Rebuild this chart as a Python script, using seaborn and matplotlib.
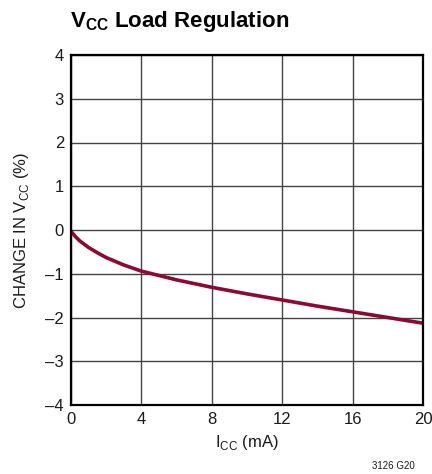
import matplotlib
matplotlib.use("Agg")
import matplotlib.pyplot as plt
import pandas as pd
import seaborn as sns

# data
icc_ma = [0, 0.25, 0.5, 1, 1.5, 2, 3, 4, 6, 8, 10, 12, 14, 16, 18, 20]
vcc_change = [-0.03, -0.15, -0.25, -0.40, -0.52, -0.63, -0.80, -0.94, -1.14,
              -1.31, -1.46, -1.60, -1.74, -1.87, -2.00, -2.13]
x_ticks = [0, 4, 8, 12, 16, 20]
y_ticks = [-4, -3, -2, -1, 0, 1, 2, 3, 4]

df = pd.DataFrame({"icc": icc_ma, "change": vcc_change})

sns.set_style("white")
plt.rcParams["font.family"] = ["Liberation Sans", "DejaVu Sans"]
plt.rcParams["mathtext.fontset"] = "custom"
plt.rcParams["mathtext.rm"] = "Liberation Sans"
plt.rcParams["mathtext.bf"] = "Liberation Sans:bold"
for key in ["text.color", "axes.labelcolor", "xtick.color", "ytick.color"]:
    plt.rcParams[key] = "#1a1a1a"

fig = plt.figure(figsize=(4.32, 4.74), dpi=100)
ax = fig.add_axes([71 / 432, 69 / 474, 352 / 432, 350 / 474])

sns.lineplot(data=df, x="icc", y="change", ax=ax, color="#8a0a32", linewidth=2.6)

ax.set_xlim(0, 20)
ax.set_ylim(-4, 4)
ax.set_xticks(x_ticks)
ax.set_yticks(y_ticks)
ax.set_xticklabels([str(t) for t in x_ticks])
ax.set_yticklabels([str(t).replace("-", "\u2013") for t in y_ticks])
ax.tick_params(length=0, labelsize=12, pad=5)
ax.grid(True, color="#444444", linewidth=1.0)
for s in ax.spines.values():
    s.set_color("black")
    s.set_linewidth(1.6)

ax.set_xlabel(r"I$_\mathrm{CC}$ (mA)", fontsize=12, labelpad=4)
ax.set_ylabel(r"CHANGE IN V$_\mathrm{CC}$ (%)", fontsize=12, labelpad=10)

fig.text(70 / 432, 1 - 22 / 474, r"V$_\mathbf{CC}$ Load Regulation", fontsize=16,
         fontweight="bold", va="center", ha="left", color="black")
fig.text(415 / 432, 1 - 466 / 474, "3126 G20", fontsize=7, ha="right", va="center")

plt.savefig("out.png", dpi=100)
